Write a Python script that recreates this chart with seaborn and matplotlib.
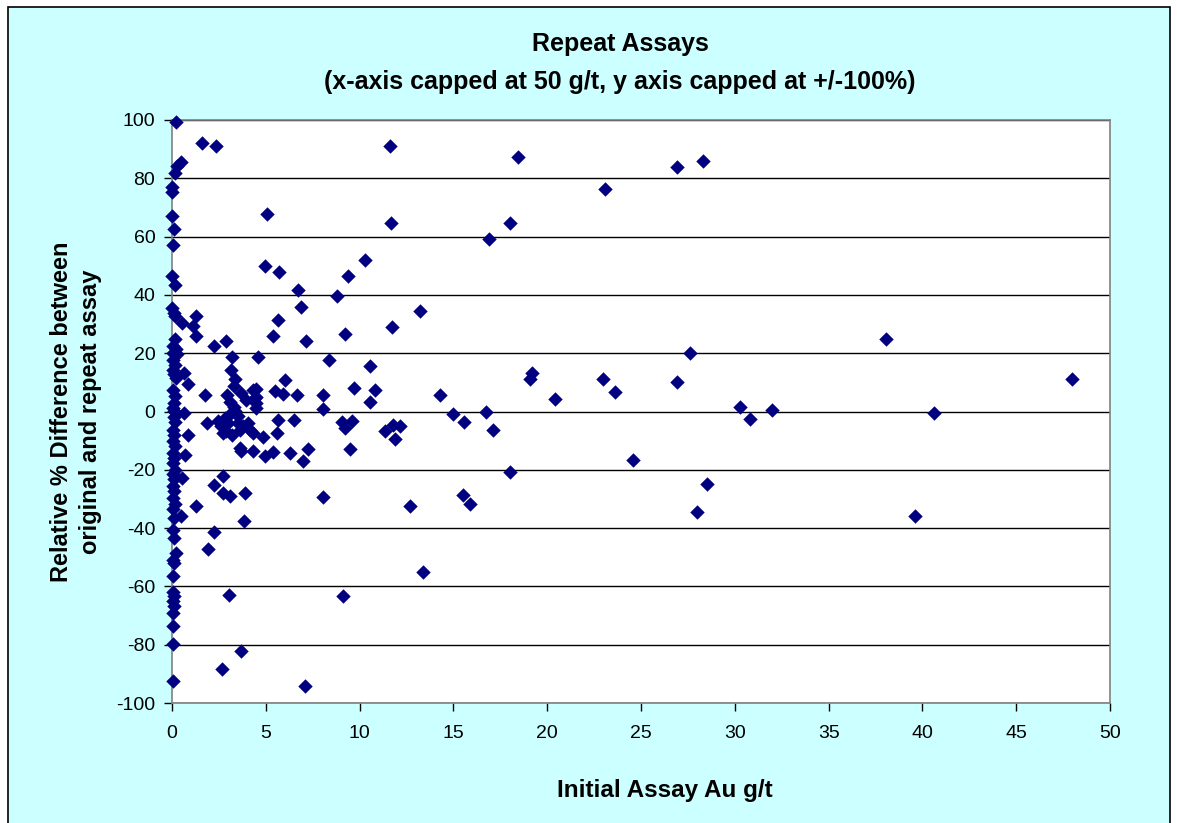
import matplotlib
matplotlib.use("Agg")
import matplotlib.pyplot as plt
import seaborn as sns
import pandas as pd
from matplotlib.patches import Rectangle

# ---- data ----
x_axis_pts = [0.2, 0.46, 0.28, 0.16, 0.02, 0.02, 0.02, 0.1, 0.05, 0.02, 0.15, 0.02, 0.1, 0.15, 0.15, 0.05,
              0.2, 0.05, 0.25, 0.05, 0.15, 0.05, 0.1, 0.2, 0.05, 0.15, 0.1, 0.05, 0.1, 0.2, 0.1, 0.15, 0.05,
              0.1, 0.05, 0.15, 0.05, 0.1, 0.05, 0.15, 0.05, 0.1, 0.05, 0.1, 0.05, 0.15, 0.05, 0.1, 0.05, 0.1,
              0.2, 0.05, 0.1, 0.05, 0.05, 0.1, 0.05, 0.1, 0.05, 0.05, 0.05, 0.05]
y_axis_pts = [99.2, 85.6, 84.1, 81.9, 77, 75.2, 67, 62.5, 57, 46.5, 43.3, 35.6, 33.9, 32.7, 25, 22.4,
              21.3, 20.1, 19.6, 17.8, 16.1, 14.4, 12.7, 11.6, 7.5, 5.2, 3.0, 1.3, 0.2, -0.5, -2, -3.5, -6.2,
              -7.9, -10.2, -11.9, -14.2, -15.9, -17.6, -19.9, -21.6, -23.3, -25.6, -27.3, -29.6, -31.9, -33.6,
              -36.5, -40.5, -43.3, -48.5, -50.8, -51.9, -56.5, -61.8, -63.4, -65.1, -66.8, -69.1, -73.6, -79.9, -92.3]

x_low = [0.55, 0.64, 0.87, 0.64, 0.83, 0.7, 0.52, 0.46,
         1.58, 2.35, 1.28, 1.13, 1.28, 2.24, 2.9, 3.2, 4.6, 3.13, 3.36, 3.3, 1.78, 2.95, 3.09, 3.94, 4.5,
         4.34, 4.5, 4.5, 4.5, 3.36, 3.1, 1.85, 2.47, 2.83, 3.0, 2.9, 2.74, 3.53, 3.6, 4.07, 4.16, 4.3, 4.83,
         3.6, 3.7, 4.33, 4.96, 2.74, 2.24, 2.74, 3.1, 3.9, 1.3, 3.85, 2.24, 1.92, 3.05, 3.7, 2.65,
         3.3, 3.5, 3.8, 2.6, 3.2, 4.4, 3.7]
y_low = [30.3, 13.3, 9.3, -0.5, -8.1, -15, -22.7, -35.8,
         92.2, 91, 32.9, 29.3, 25.8, 22.4, 24.1, 18.7, 18.7, 14.2, 11, 8.9, 5.5, 5.6, 3.2, 4.0, 7.8,
         7.5, 5, 3, 1.3, 0.1, -0.7, -3.9, -3.3, -2.2, -3.9, -6.8, -7.3, -3.9, -6.2, -3.9, -6.2, -7.3, -8.7,
         -12.5, -13.6, -13.6, -15.3, -22.2, -25.3, -28.1, -29, -27.9, -32.4, -37.4, -41.5, -47.2, -62.9, -82.1, -88.3,
         1.5, -1.5, -5, -5, -8, 4.5, 6.5]

x_mid = [5.08, 4.97, 5.7, 6.7, 8.78, 6.86, 5.65, 5.4, 7.16, 9.2, 8.37, 6.0, 5.5, 5.92, 6.65, 8.07, 8.07,
         9.7, 5.67, 6.52, 5.6, 5.4, 6.29, 7.0, 7.27, 8.07, 7.1,
         9.4, 10.3, 11.6, 11.7, 13.2, 11.75, 10.55, 10.8, 10.55, 14.3, 15.0, 15.55, 16.75, 17.1, 9.08, 9.6,
         9.2, 9.5, 11.35, 11.8, 12.15, 11.9, 18.0, 15.5, 15.9, 12.7, 13.4, 9.1]
y_mid = [67.6, 50, 47.7, 41.6, 39.5, 36, 31.3, 26, 24.1, 26.6, 17.7, 10.7, 7.2, 6, 5.6, 5.6, 0.7,
         8, -3, -3, -7.5, -13.8, -14.4, -16.9, -12.9, -29.3, -94.1,
         46.4, 51.9, 91, 64.5, 34.4, 29.1, 15.6, 7.4, 3.3, 5.7, -1.0, -3.5, -0.3, -6.2, -3.5, -3.1,
         -5.8, -12.9, -6.6, -4.5, -5.1, -9.4, -20.6, -28.5, -31.6, -32.5, -54.9, -63.3]

x_high = [18.46, 18.0, 16.9, 19.2, 19.1, 20.4, 23.1, 26.9, 28.3, 23.0, 23.6, 24.6, 27.6, 26.9, 38.05,
          48.0, 30.3, 30.8, 32.0, 40.6, 28.5, 28.0, 39.6]
y_high = [87.4, 64.5, 59.2, 13.3, 11.1, 4.3, 76.5, 83.8, 86, 11.1, 6.7, -16.6, 19.9, 10, 24.7,
          11.1, 1.6, -2.5, 0.6, -0.4, -24.9, -34.4, -35.9]

x_ticks = list(range(0, 51, 5))
y_ticks = list(range(-100, 101, 20))

title_text = "Repeat Assays\n(x-axis capped at 50 g/t, y axis capped at +/-100%)"
x_label = "Initial Assay Au g/t"
y_label = "Relative % Difference between\noriginal and repeat assay"

df = pd.DataFrame({
    "x": x_axis_pts + x_low + x_mid + x_high,
    "y": y_axis_pts + y_low + y_mid + y_high,
})

sns.set_style("white")
plt.rcParams["font.family"] = ["Liberation Sans", "DejaVu Sans"]
plt.rcParams["axes.unicode_minus"] = False
plt.rcParams["text.color"] = "black"
plt.rcParams["xtick.color"] = "black"
plt.rcParams["ytick.color"] = "black"

W, H = 1177, 823
fig = plt.figure(figsize=(W / 100, H / 100), dpi=100)
fig.patch.set_facecolor("white")
fig.patches.append(Rectangle((8 / W, -0.01), (1170 - 8) / W, (H - 7) / H + 0.01,
                             transform=fig.transFigure, facecolor="#CCFFFF",
                             edgecolor="black", linewidth=1.2, zorder=-10))

ax = fig.add_axes([172 / W, 1 - 703 / H, (1110 - 172) / W, (703 - 120) / H])
ax.set_facecolor("white")
ax.set_zorder(1)

sns.scatterplot(data=df, x="x", y="y", ax=ax, marker="D", s=54, color="#000080",
                edgecolor="#000080", linewidth=0, zorder=3, clip_on=False)

ax.set_xlim(0, 50)
ax.set_ylim(-100, 100)
ax.set_xticks(x_ticks)
ax.set_yticks(y_ticks)
ax.tick_params(axis="both", which="major", bottom=True, left=True, top=False, right=False,
               labelsize=14, direction="out", length=6, width=1, color="black",
               labelcolor="black")
ax.tick_params(axis="x", pad=10)
ax.tick_params(axis="y", pad=6)
ax.grid(axis="y", color="black", linewidth=1, zorder=1)
ax.grid(axis="x", visible=False)
ax.set_axisbelow(True)
for side in ["top", "right", "left", "bottom"]:
    ax.spines[side].set_visible(True)
    ax.spines[side].set_color("#808080")
    ax.spines[side].set_linewidth(1.2)
ax.set_xlabel("")
ax.set_ylabel("")

fig.text(620 / W, 1 - 63 / H, title_text, ha="center", va="center", fontsize=18,
         fontweight="bold", linespacing=1.7)
fig.text(665 / W, 1 - 790 / H, x_label, ha="center", va="center", fontsize=17.5,
         fontweight="bold")
fig.text(76 / W, 1 - 412 / H, y_label, ha="center", va="center", rotation=90,
         fontsize=17, fontweight="bold", multialignment="center", linespacing=1.35)

fig.savefig("out.png", dpi=100, facecolor=fig.get_facecolor())
